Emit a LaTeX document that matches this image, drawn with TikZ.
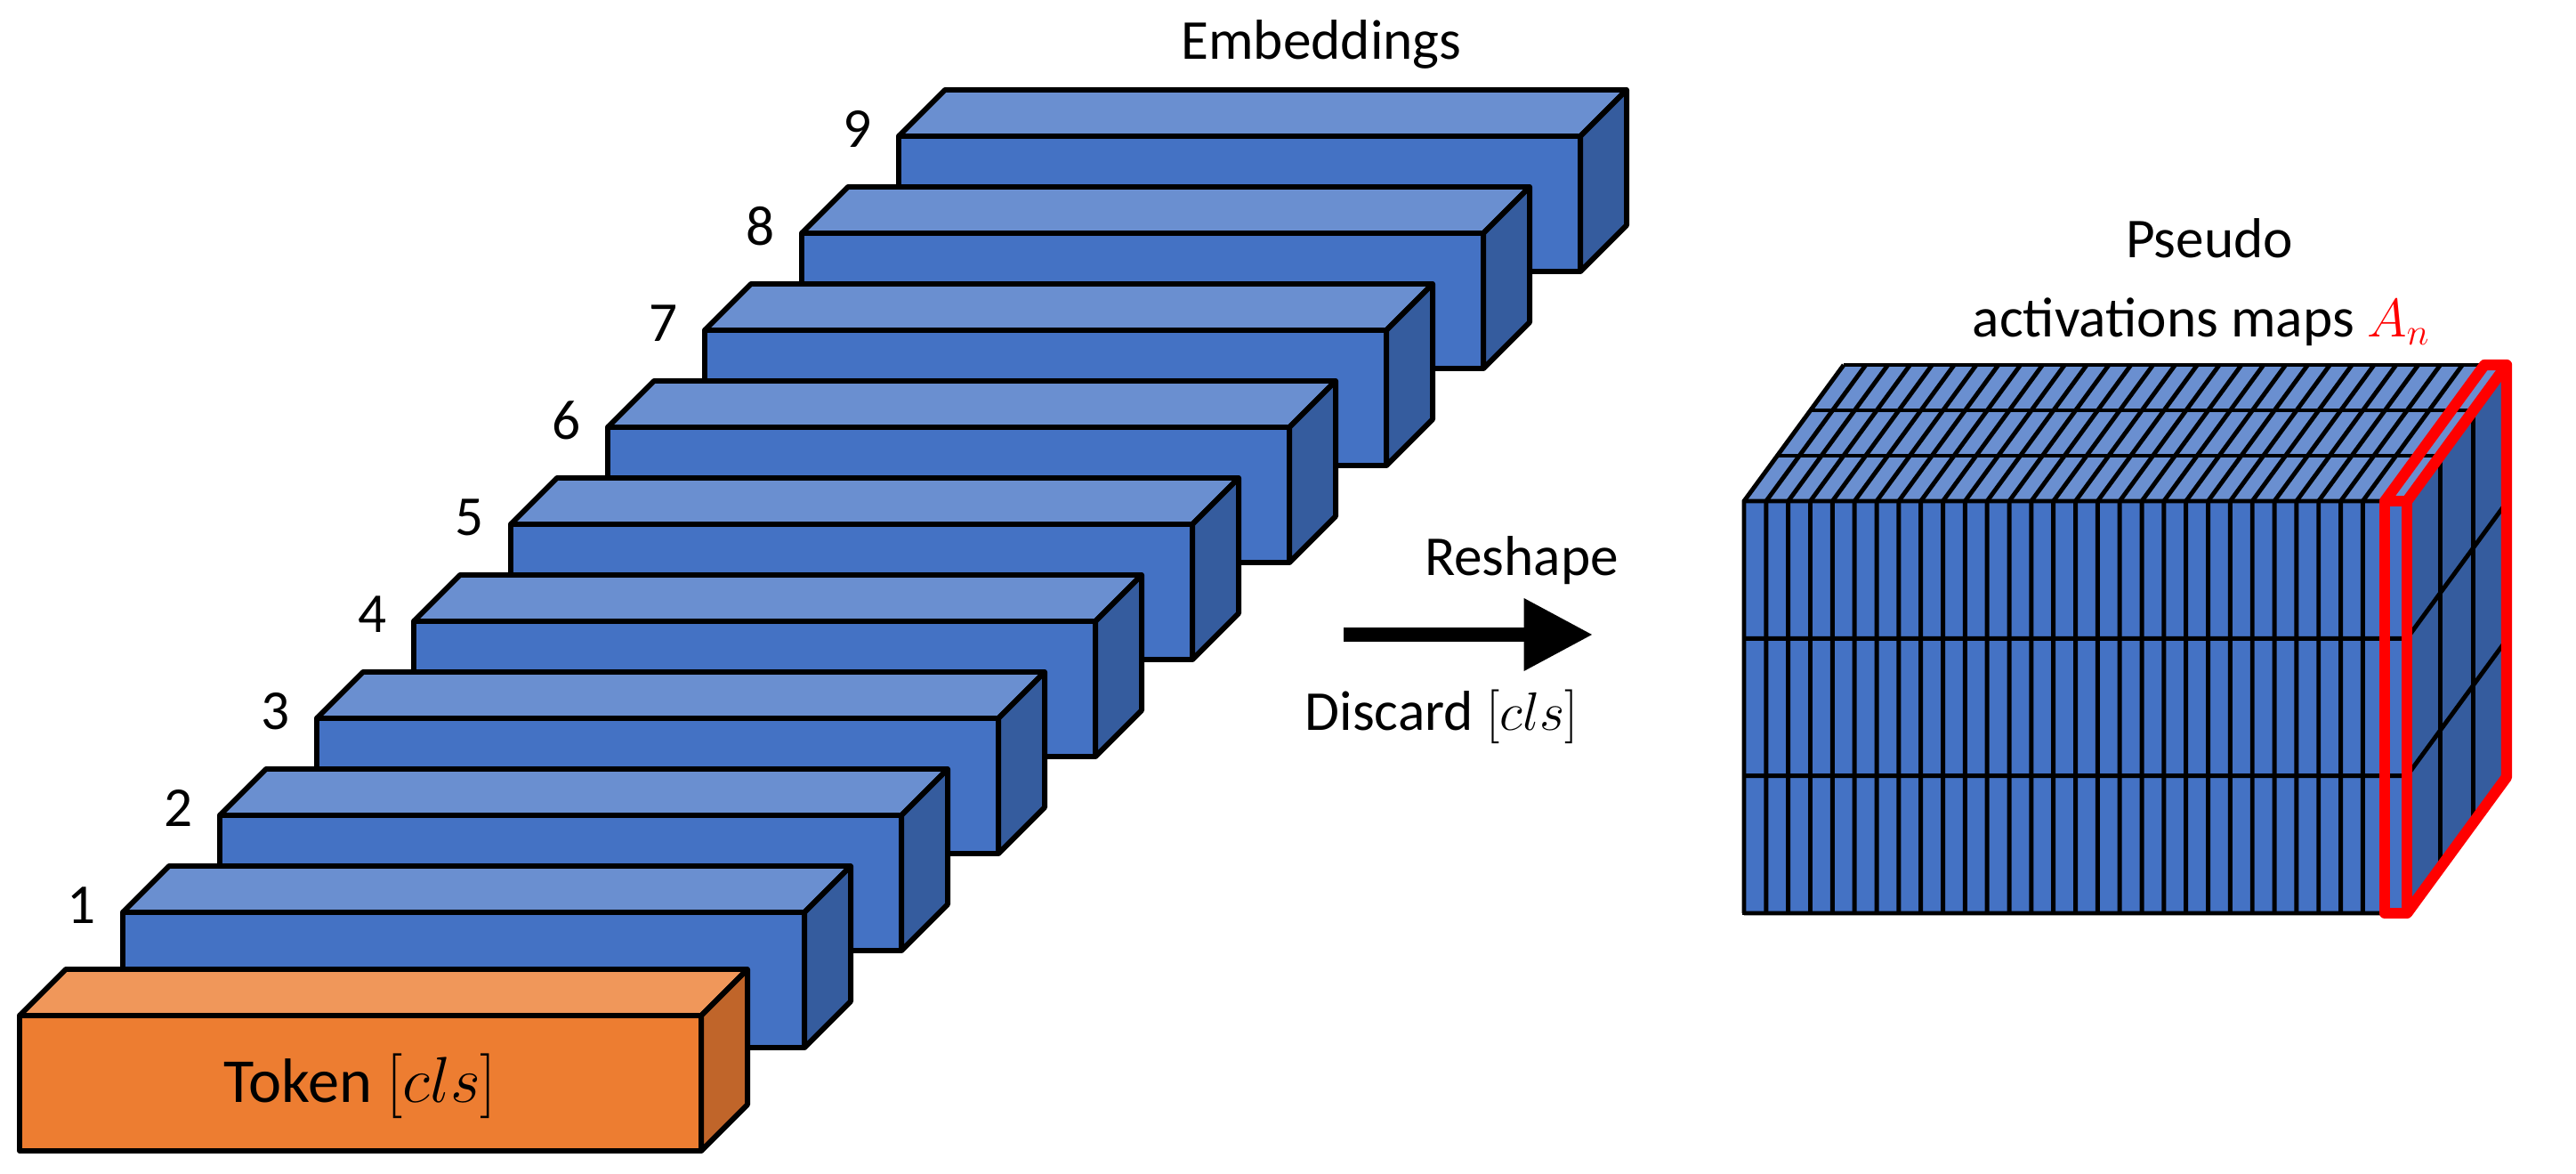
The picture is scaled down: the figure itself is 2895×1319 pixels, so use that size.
\documentclass[tikz,border=0pt]{standalone}
\usepackage{fontspec}
\setmainfont{Carlito}
\usetikzlibrary{arrows.meta}
\definecolor{bF}{HTML}{4472C4}\definecolor{bT}{HTML}{6A8FD0}\definecolor{bS}{HTML}{355C9E}
\definecolor{oF}{HTML}{ED7D31}\definecolor{oT}{HTML}{F0975A}\definecolor{oS}{HTML}{C0652A}
\definecolor{rd}{HTML}{FF0000}
\tikzset{edge/.style={draw=black,line width=1.7pt,line join=round},
 lbl/.style={font=\fontsize{18}{22}\selectfont,inner sep=0pt}}
\newcommand{\mybox}[5]{% x y front top side
 \fill[#3] (#1,#2) rectangle ++(766,152);
 \draw[edge] (#1,#2) rectangle ++(766,152);
 \filldraw[edge,fill=#4] (#1,#2) -- ++(52,-52) -- ++(766,0) -- ++(-52,52) -- cycle;
 \filldraw[edge,fill=#5] (#1+766,#2) -- ++(52,-52) -- ++(0,152) -- ++(-52,52) -- cycle;}
\begin{document}
\begin{tikzpicture}[x=0.01cm,y=-0.01cm]
\useasboundingbox (0,0) rectangle (2895,1319);
\foreach \i in {9,...,1}{
 \pgfmathsetmacro{\bx}{138+109*(\i-1)}
 \pgfmathsetmacro{\by}{1025-109*(\i-1)}
 \mybox{\bx}{\by}{bF}{bT}{bS}
 \node[lbl,anchor=east] (n\i) at (\bx-30,\by-8) {\i};
}
\mybox{22}{1141}{oF}{oT}{oS}
\node[lbl,font=\fontsize{20}{24}\selectfont] (tok) at (405,1220) {Token $[cls]$};
\node[lbl] (emb) at (1485,50) {Embeddings};
% arrow
\coordinate (a1) at (1510,713); \coordinate (a2) at (1790,713);
\draw[line width=4.5pt,-{Triangle[length=22pt,width=22pt]}] (a1) -- (a2);
\node[lbl] (resh) at (1710,630) {Reshape};
\node[lbl] (disc) at (1620,805) {Discard $[cls]$};
% right block
\def\X{1960}\def\Y{563}\def\W{745}\def\H{463}\def\DX{112}\def\DY{153}\def\SW{24.8333}
\fill[bF] (\X,\Y) rectangle ++(\W,\H);
\fill[bT] (\X,\Y) -- ++(\DX,-\DY) -- ++(\W,0) -- ++(-\DX,\DY) -- cycle;
\fill[bS] (\X+\W,\Y) -- ++(\DX,-\DY) -- ++(0,\H) -- ++(-\DX,\DY) -- cycle;
\foreach \k in {0,...,30}{
 \draw[line width=1.4pt] (\X+\k*\SW,\Y+\H) -- (\X+\k*\SW,\Y) -- ++(\DX,-\DY);}
\foreach \t in {0,1,2,3}{
 \draw[line width=1.4pt] (\X+\t*\DX/3,\Y-\t*\DY/3) -- ++(\W,0) -- ++(0,\H);}
\foreach \t in {0,1,2,3}{
 \draw[line width=1.4pt] (\X,\Y+\t*\H/3) -- ++(\W,0) -- ++(\DX,-\DY);}
\draw[line width=1.4pt] (\X,\Y) rectangle ++(\W,\H);
% red slice
\draw[rd,line width=3.5pt,line join=round] (\X+\W-\SW,\Y) rectangle (\X+\W,\Y+\H);
\draw[rd,line width=3.5pt,line join=round] (\X+\W-\SW,\Y) -- ++(\DX,-\DY) -- ++(\SW,0) -- ++(0,\H) -- (\X+\W,\Y+\H);
\draw[rd,line width=3.5pt,line join=round] (\X+\W,\Y) -- ++(\DX,-\DY);
\node[lbl] (ps) at (2483,268) {Pseudo};
\node[lbl] (act) at (2474,362) {activations maps \textcolor{rd}{$A_n$}};
\end{tikzpicture}
\end{document}
